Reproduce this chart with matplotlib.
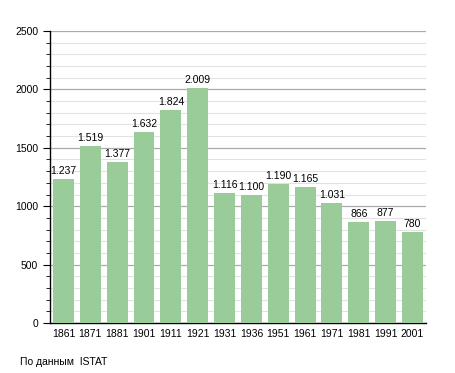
import numpy as np
import matplotlib.pyplot as plt

plt.rcParams['font.family'] = ['Liberation Sans', 'DejaVu Sans']

years = ['1861', '1871', '1881', '1901', '1911', '1921', '1931',
         '1936', '1951', '1961', '1971', '1981', '1991', '2001']
population = [1237, 1519, 1377, 1632, 1824, 2009, 1116,
              1100, 1190, 1165, 1031, 866, 877, 780]

fig = plt.figure(figsize=(4.55, 3.73), dpi=100)
ax = fig.add_axes([0.110, 0.134, 0.826, 0.783])

x = np.arange(len(years))
ax.bar(x, population, width=0.78, color='#99cc99', zorder=3)

for xi, v in zip(x, population):
    lab = '{:,}'.format(v).replace(',', '.')
    ax.text(xi, v + 25, lab, ha='center', va='bottom', fontsize=7.5, zorder=4)

ax.set_xlim(-0.5, len(years) - 0.5)
ax.set_ylim(0, 2500)
ax.set_xticks(x)
ax.set_xticklabels(years, fontsize=7.5)
ax.set_yticks(range(0, 2501, 500))
ax.set_yticks(range(0, 2501, 100), minor=True)
ax.tick_params(axis='y', which='major', labelsize=7.5, length=5, direction='out')
ax.tick_params(axis='y', which='minor', length=3, direction='out')
ax.tick_params(axis='x', length=0, pad=4)

ax.grid(axis='y', which='major', color='#aaaaaa', linewidth=0.9, zorder=0)
ax.grid(axis='y', which='minor', color='#e2e2e2', linewidth=0.8, zorder=0)

for s in ['top', 'right']:
    ax.spines[s].set_visible(False)
ax.spines['left'].set_linewidth(1.0)
ax.spines['bottom'].set_linewidth(1.0)

fig.text(20 / 455, 1 - 362 / 373, 'По данным  ISTAT', fontsize=7.5, va='center')

fig.savefig('out.png', dpi=100)
